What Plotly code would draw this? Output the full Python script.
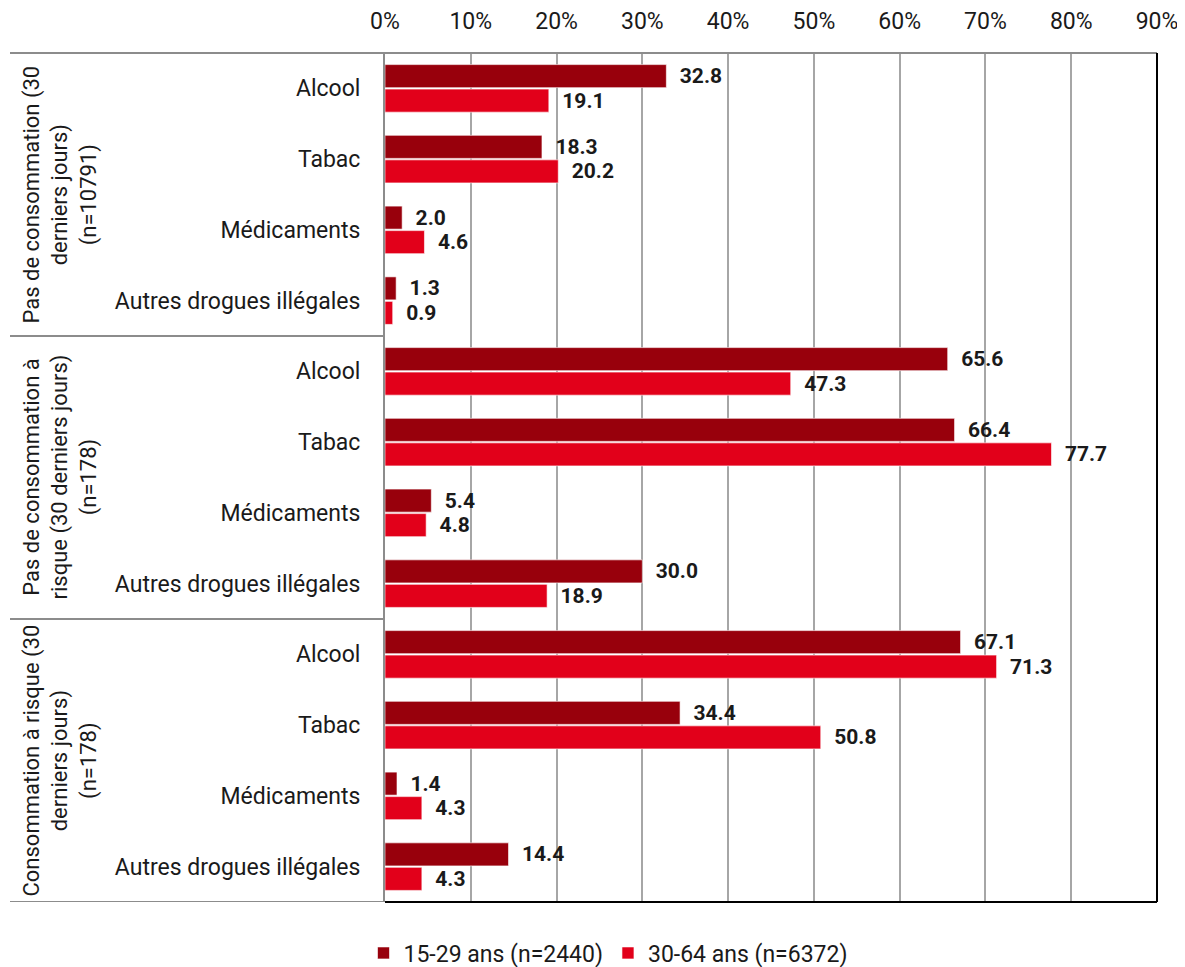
import plotly.graph_objects as go

groups = [
    "Pas de consommation (30<br>derniers jours)<br>(n=10791)",
    "Pas de consommation à<br>risque (30 derniers jours)<br>(n=178)",
    "Consommation à risque (30<br>derniers jours)<br>(n=178)",
]
categories = ["Alcool", "Tabac", "Médicaments", "Autres drogues illégales"]
series_names = ["15-29 ans (n=2440)", "30-64 ans (n=6372)"]
vals_15_29 = [32.8, 18.3, 2.0, 1.3, 65.6, 66.4, 5.4, 30.0, 67.1, 34.4, 1.4, 14.4]
vals_30_64 = [19.1, 20.2, 4.6, 0.9, 47.3, 77.7, 4.8, 18.9, 71.3, 50.8, 4.3, 4.3]
colors = ["#98000c", "#e2001a"]
x_ticks = [0, 10, 20, 30, 40, 50, 60, 70, 80, 90]

FONT = "Liberation Sans Narrow, Arial Narrow, Roboto, sans-serif"
TXT = "#1a1a1a"

n_cat = len(categories)
positions = list(range(len(groups) * n_cat))
ticktext = [categories[i % n_cat] for i in positions]

fig = go.Figure()
for name, vals, col in zip(series_names, [vals_15_29, vals_30_64], colors):
    fig.add_trace(go.Bar(
        y=positions, x=vals, orientation="h", name=name,
        marker=dict(color=col, line=dict(color="rgba(255,255,255,0.6)", width=1)),
        text=[f"\u00a0\u00a0{v:.1f}" for v in vals],
        textposition="outside", constraintext="none", cliponaxis=False,
        textfont=dict(family=FONT, size=21, color=TXT, weight="bold"),
        textangle=0,
    ))

# page has an 8px body offset; work in reference pixels minus 8
OFF = 8
W, H = 1185 - OFF, 967 - OFF
L, T = 385 - OFF, 53 - OFF
R = W - (1157 - OFF)
B = H - (902 - OFF)
pw, ph = W - L - R, H - T - B

def px_x(p):
    return (p - OFF - L) / pw

def px_y(p):
    return 1 - (p - OFF - T) / ph

shapes = []
shapes.append(dict(type="line", xref="paper", yref="paper", x0=px_x(10), x1=1, y0=1, y1=1,
                   line=dict(color="#8c8c8c", width=2)))
for gi in range(1, len(groups) + 1):
    yb = gi * n_cat - 0.5
    shapes.append(dict(type="line", xref="paper", yref="y", x0=px_x(10), x1=0, y0=yb, y1=yb,
                       line=dict(color="#8c8c8c", width=2)))
shapes.append(dict(type="line", xref="paper", yref="paper", x0=0, x1=1, y0=0, y1=0,
                   line=dict(color="#000000", width=2)))
shapes.append(dict(type="line", xref="paper", yref="paper", x0=1, x1=1, y0=0, y1=1,
                   line=dict(color="#000000", width=2)))

annotations = []
for gi, g in enumerate(groups):
    annotations.append(dict(
        text=g, xref="paper", yref="y", x=px_x(60), y=gi * n_cat + (n_cat - 1) / 2,
        showarrow=False, textangle=-90, xanchor="center", yanchor="middle",
        font=dict(family=FONT, size=22, color=TXT), align="center",
    ))

fig.update_layout(
    width=W, height=H,
    margin=dict(l=L, r=R, t=T, b=B, autoexpand=False),
    paper_bgcolor="white", plot_bgcolor="white",
    barmode="group", bargap=0.307, bargroupgap=0.06,
    font=dict(family=FONT, size=23, color=TXT),
    shapes=shapes, annotations=annotations,
    legend=dict(orientation="h", x=px_x(608), xanchor="center", y=px_y(953), yanchor="middle",
                font=dict(family=FONT, size=23, color=TXT), traceorder="normal",
                itemwidth=30, bgcolor="rgba(0,0,0,0)"),
    xaxis=dict(
        side="top", range=[0, 90], tickvals=x_ticks, ticktext=[f"{t}%" for t in x_ticks],
        showgrid=True, gridcolor="#a6a6a6", gridwidth=2, zeroline=False,
        showline=False, tickfont=dict(family=FONT, size=23, color=TXT),
        ticks="", ticklabelstandoff=18,
    ),
    yaxis=dict(
        tickvals=positions, ticktext=ticktext, range=[len(positions) - 0.5, -0.5],
        showgrid=False, zeroline=False, showline=True, linecolor="#8c8c8c", linewidth=2,
        tickfont=dict(family=FONT, size=23, color=TXT), ticks="", ticklabelstandoff=18,
    ),
)

fig.write_html("out.html")
